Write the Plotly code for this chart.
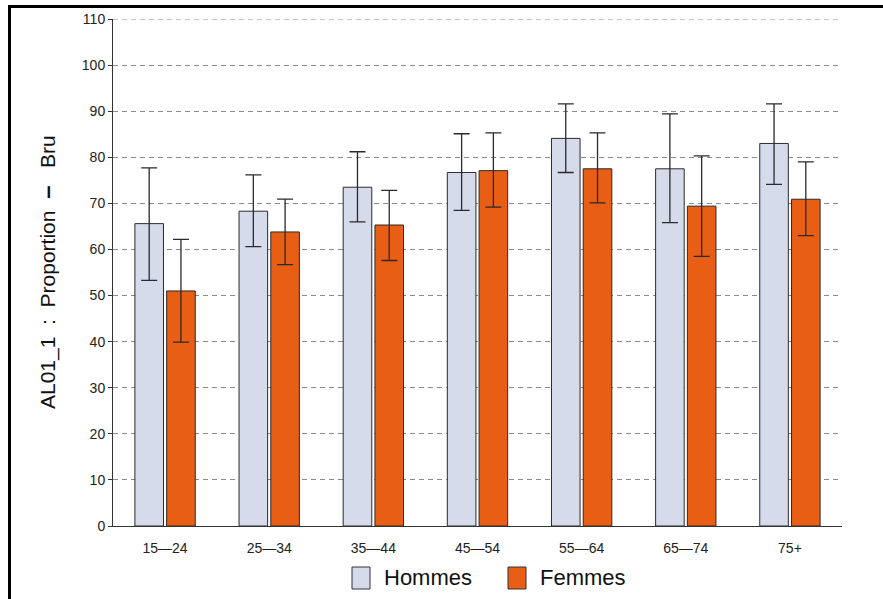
import plotly.graph_objects as go

categories = ["15—24", "25—34", "35—44", "45—54", "55—64", "65—74", "75+"]
hommes = [65.6, 68.3, 73.5, 76.7, 84.1, 77.5, 83.0]
hommes_hi = [77.7, 76.2, 81.2, 85.1, 91.6, 89.4, 91.6]
hommes_lo = [53.3, 60.6, 66.0, 68.5, 76.7, 65.8, 74.1]
femmes = [51.0, 63.8, 65.3, 77.1, 77.5, 69.4, 70.9]
femmes_hi = [62.2, 70.9, 72.8, 85.3, 85.3, 80.3, 79.0]
femmes_lo = [39.9, 56.7, 57.6, 69.2, 70.1, 58.5, 63.0]
y_ticks = list(range(0, 111, 10))
series_names = ["Hommes", "Femmes"]

C_H = "#D6DBEC"
C_F = "#E85E14"
FONT = "Liberation Sans"
GRID_COLOR = "#8a8a8a"
GRID_DASH = "5px,4px"

W, H = 883, 599
L, R, T, B = 113, 842, 19, 526


def px(x):
    return (x - L) / (R - L)


def py(y):
    return (B - y) / (B - T)


fig = go.Figure()
for name, vals, hi, lo, col in [
    (series_names[0], hommes, hommes_hi, hommes_lo, C_H),
    (series_names[1], femmes, femmes_hi, femmes_lo, C_F),
]:
    fig.add_trace(go.Bar(
        x=categories, y=vals, name=name,
        marker=dict(color=col, line=dict(color="#2a2a2a", width=1)),
        error_y=dict(type="data", symmetric=False,
                     array=[h - v for h, v in zip(hi, vals)],
                     arrayminus=[v - l for v, l in zip(vals, lo)],
                     color="#2a2a2a", thickness=1.3, width=8),
        showlegend=False,
    ))

shapes = [
    # top gridline (at the range edge, which plotly omits)
    dict(type="line", xref="paper", yref="y", x0=0, x1=1,
         y0=y_ticks[-1], y1=y_ticks[-1],
         line=dict(color=GRID_COLOR, width=1, dash=GRID_DASH), layer="below"),
    # outer frame
    dict(type="rect", xref="paper", yref="paper",
         x0=px(9.5), x1=px(900), y0=py(6.5), y1=py(620),
         line=dict(color="black", width=3), fillcolor="rgba(0,0,0,0)", layer="above"),
    # legend swatches
    dict(type="rect", xref="paper", yref="paper",
         x0=px(352), x1=px(370), y0=py(589), y1=py(567),
         line=dict(color="#333", width=1), fillcolor=C_H),
    dict(type="rect", xref="paper", yref="paper",
         x0=px(508), x1=px(526), y0=py(589), y1=py(567),
         line=dict(color="#333", width=1), fillcolor=C_F),
]

NB = "\u00a0"
DASH = '<span style="font-size:24px"><b>–</b></span>'
ytitle = "AL01_1" + NB * 2 + ":" + NB * 2 + "Proportion" + NB * 2 + DASH + NB * 3 + "Bru"

annotations = [
    dict(text=ytitle, xref="paper", yref="paper",
         x=px(46), y=py(272), textangle=-90, showarrow=False,
         font=dict(family=FONT, size=21, color="#111"),
         xanchor="center", yanchor="middle"),
    dict(text=series_names[0], xref="paper", yref="paper", x=px(382), y=py(577),
         showarrow=False, xanchor="left", yanchor="middle",
         font=dict(family=FONT, size=22, color="#111")),
    dict(text=series_names[1], xref="paper", yref="paper", x=px(538), y=py(577),
         showarrow=False, xanchor="left", yanchor="middle",
         font=dict(family=FONT, size=22, color="#111")),
]

fig.update_layout(
    width=W, height=H,
    margin=dict(l=L, r=W - R, t=T, b=H - B, pad=0),
    paper_bgcolor="white", plot_bgcolor="white",
    barmode="group", bargap=0.39, bargroupgap=0.1,
    font=dict(family=FONT, size=14, color="#222"),
    shapes=shapes, annotations=annotations,
    showlegend=False,
)
fig.update_yaxes(
    range=[0, 110], tickvals=y_ticks, ticktext=[str(v) for v in y_ticks],
    showgrid=True, gridcolor=GRID_COLOR, griddash=GRID_DASH, gridwidth=1,
    showline=True, linecolor="#333", linewidth=1,
    ticks="outside", ticklen=4, tickcolor="#333",
    tickfont=dict(family=FONT, size=14, color="#222"),
    zeroline=False,
)
fig.update_xaxes(
    showline=True, linecolor="#333", linewidth=1, ticks="",
    showgrid=False, ticklabelstandoff=9,
    tickfont=dict(family=FONT, size=14, color="#222"),
)

fig.write_html("out.html", config={"displayModeBar": False},
               post_script="document.body.style.margin='0px';")
